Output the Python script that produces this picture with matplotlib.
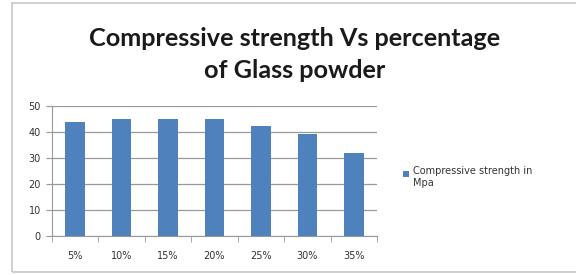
import matplotlib
matplotlib.use("Agg")
import matplotlib.pyplot as plt
from matplotlib.patches import Rectangle
import numpy as np

categories = ["5%", "10%", "15%", "20%", "25%", "30%", "35%"]
strength = [43.8, 45.1, 45.1, 45.1, 42.4, 39.4, 31.8]
series_name = "Compressive strength in\nMpa"
title_lines = ["Compressive strength Vs percentage", "of Glass powder"]

W, H = 576, 275
fig = plt.figure(figsize=(W / 100, H / 100), dpi=100)
fig.patch.set_facecolor("white")

# outer chart frame
fig.patches.append(Rectangle((12 / W, 3 / H), (W + 5 - 12) / W, (272 - 3) / H,
                             transform=fig.transFigure, fill=False,
                             edgecolor="#c8c8c8", linewidth=1.2))

ax = fig.add_axes([52 / W, 1 - 236 / H, (377 - 52) / W, (236 - 106) / H])
x = np.arange(len(categories))
color = "#4f81bd"
ax.bar(x, strength, width=0.42, color=color, zorder=3)
ax.set_xlim(-0.5, len(categories) - 0.5)
ax.set_ylim(0, 50)
ax.set_yticks(range(0, 51, 10))
ax.set_xticks(x)
ax.set_xticklabels(categories)
ax.set_xticks(np.arange(-0.5, len(categories)), minor=True)
ax.tick_params(axis="x", which="major", length=0, pad=11, labelsize=7, colors="#333333")
ax.tick_params(axis="x", which="minor", length=4, color="#999999")
ax.tick_params(axis="y", length=4, color="#999999", labelsize=7, colors="#333333", pad=4)
ax.grid(axis="y", color="#999999", linewidth=0.9, zorder=0)
for s in ["top", "right"]:
    ax.spines[s].set_visible(False)
ax.spines["left"].set_color("#999999")
ax.spines["bottom"].set_color("#999999")

for line, yb in zip(title_lines, [45.5, 78]):
    fig.text(295 / W, 1 - yb / H, line, ha="center", va="baseline",
             fontsize=18.2, fontweight="bold", family="Lato", color="#1a1a1a")

# legend
fig.patches.append(Rectangle((403 / W, 1 - 177 / H), 6 / W, 6 / H,
                             transform=fig.transFigure, facecolor=color, edgecolor="none"))
fig.text(413 / W, 1 - 166 / H, series_name, ha="left", va="top", fontsize=7,
         color="#333333", linespacing=1.3)

fig.savefig("out.png", dpi=100)
